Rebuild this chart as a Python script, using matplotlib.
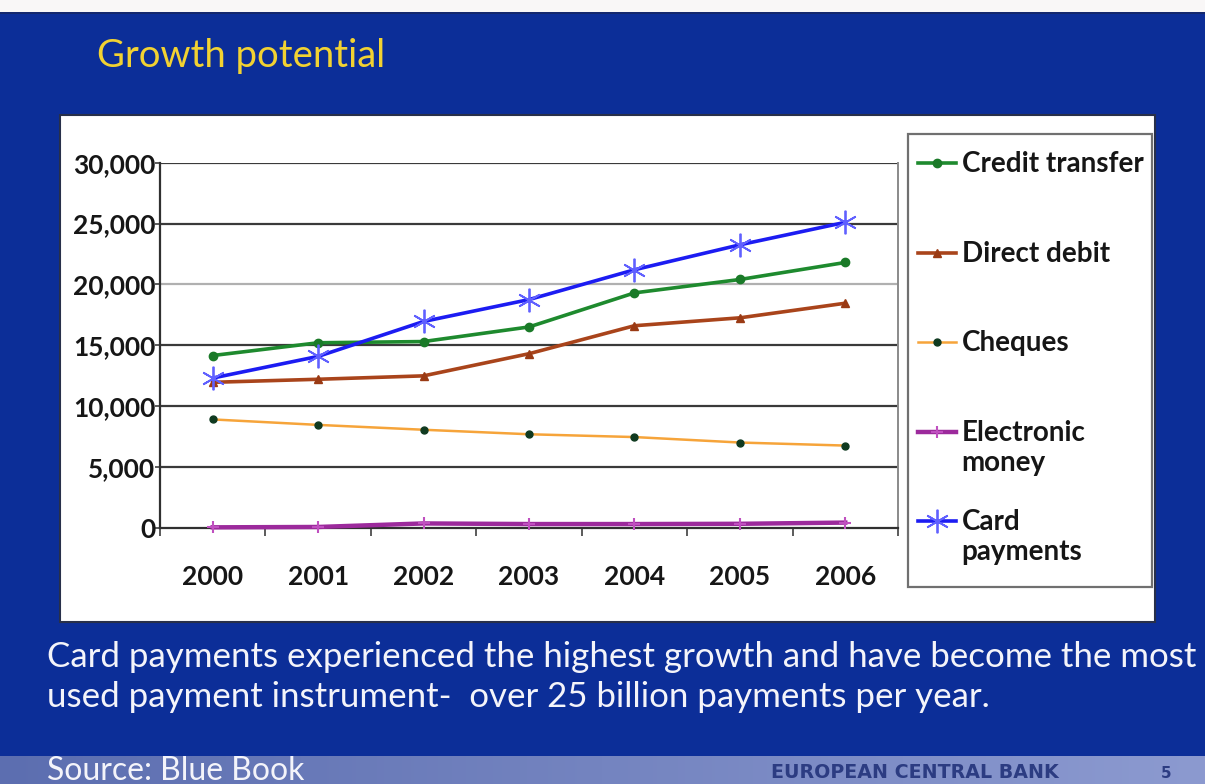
import numpy as np
import matplotlib
matplotlib.use("Agg")
import matplotlib.pyplot as plt
from matplotlib.patches import Rectangle
from matplotlib.legend_handler import HandlerLine2D
from matplotlib.transforms import Bbox, TransformedBbox
from matplotlib.ticker import FixedLocator, FuncFormatter

# ---------------- data ----------------
years = ["2000", "2001", "2002", "2003", "2004", "2005", "2006"]
credit_transfer = [14150, 15200, 15300, 16500, 19300, 20400, 21800]
direct_debit = [11950, 12200, 12480, 14300, 16600, 17250, 18450]
cheques = [8900, 8450, 8050, 7680, 7450, 7000, 6750]
electronic_money = [30, 60, 350, 300, 300, 320, 420]
card_payments = [12300, 14080, 16950, 18750, 21200, 23250, 25100]
series_labels = ["Credit transfer", "Direct debit", "Cheques",
                 "Electronic\nmoney", "Card\npayments"]
y_ticks = [0, 5000, 10000, 15000, 20000, 25000, 30000]
title = "Growth potential"
caption = ["Card payments experienced the highest growth and have become the most",
           "used payment instrument-  over 25 billion payments per year."]
source = "Source: Blue Book"
footer = "EUROPEAN CENTRAL BANK"
page = "5"

W, H = 1205, 784
fig = plt.figure(figsize=(W / 100, H / 100), dpi=100)


def fx(x):
    return x / W


def fy(y):
    return 1 - y / H


# ---------------- background ----------------
bg = fig.add_axes([0, 0, 1, 1], zorder=-10)
bg.set_axis_off()
img = np.zeros((H, W, 3))
img[:, :] = np.array([12, 46, 152]) / 255
img[:12, :] = np.array([250, 247, 247]) / 255
img[12:14, :] = np.array([20, 40, 110]) / 255
band_l = np.array([92, 110, 176]) / 255
band_r = np.array([140, 154, 208]) / 255
t = np.linspace(0, 1, W)[:, None]
img[756:, :] = (band_l * (1 - t) + band_r * t)[None, :, :]
bg.imshow(img, extent=[0, 1, 0, 1], aspect="auto", interpolation="bilinear")
bg.set_xlim(0, 1)
bg.set_ylim(0, 1)

# white chart panel
fig.patches.append(Rectangle((fx(60), fy(622)), fx(1155) - fx(60), fy(115) - fy(622),
                             transform=fig.transFigure, facecolor="white",
                             edgecolor="#28304a", linewidth=1.5, zorder=-5))
# legend frame
fig.patches.append(Rectangle((fx(908), fy(587)), fx(1152) - fx(908), fy(134) - fy(587),
                             transform=fig.transFigure, facecolor="white",
                             edgecolor="#707070", linewidth=1.6, zorder=-4))

# ---------------- chart ----------------
ax = fig.add_axes([fx(160), fy(527.7), fx(898) - fx(160), fy(162.7) - fy(527.7)])
ax.set_facecolor("none")
x = np.arange(len(years))

styles = [
    dict(color="#1e8a2e", lw=2.6, marker="o", ms=6, mfc="#1a7a28", mec="#1a7a28"),
    dict(color="#a9441b", lw=2.6, marker="^", ms=6, mfc="#9a3a14", mec="#9a3a14"),
    dict(color="#f6a43a", lw=1.8, marker="o", ms=5, mfc="#103a20", mec="#103a20"),
    dict(color="#9c2a9c", lw=3.2, marker="+", ms=8, mfc="#c050c0", mec="#c050c0", mew=1.5),
    dict(color="#1c1cf2", lw=2.6, marker=(6, 2, 0), ms=17, mfc="#6060ff", mec="#6060ff", mew=1.3),
]
series = [credit_transfer, direct_debit, cheques, electronic_money, card_payments]
lines = []
for vals, lab, st in zip(series, series_labels, styles):
    ln, = ax.plot(x, vals, label=lab, zorder=3, clip_on=False, **st)
    lines.append(ln)

ax.set_xlim(-0.5, len(years) - 0.5)
ax.set_ylim(0, 30000)
ax.set_yticks(y_ticks)
ax.yaxis.set_major_formatter(FuncFormatter(lambda v, p: f"{int(v):,}"))
ax.set_xticks(x)
ax.set_xticklabels(years)
ax.xaxis.set_minor_locator(FixedLocator(np.arange(-0.5, len(years), 1.0)))

tick_font = dict(family=["Lato", "DejaVu Sans"], weight="bold", size=19)
for lbl in ax.get_xticklabels() + ax.get_yticklabels():
    lbl.set_fontproperties(matplotlib.font_manager.FontProperties(**tick_font))
    lbl.set_color("#161616")
ax.tick_params(axis="x", which="major", length=0, pad=27)
ax.tick_params(axis="x", which="minor", length=6, width=1.2, color="#404040", direction="out")
ax.tick_params(axis="y", which="major", length=3.5, width=1.2, color="#404040", pad=0)

for yv in y_ticks[1:]:
    ax.axhline(yv, color="#b0b0b0" if yv == 20000 else "#3a3a3a", lw=1.6, zorder=1)

for s in ["left", "bottom"]:
    ax.spines[s].set_color("#303030")
    ax.spines[s].set_linewidth(1.6)
ax.spines["top"].set_visible(False)
ax.spines["right"].set_color("#8a8a8a")
ax.spines["right"].set_linewidth(1.4)


# ---------------- legend ----------------
class FirstLineHandler(HandlerLine2D):
    def __init__(self, shift, **kw):
        super().__init__(**kw)
        self.shift = shift

    def create_artists(self, legend, orig_handle, xdescent, ydescent, width, height,
                       fontsize, trans):
        arts = super().create_artists(legend, orig_handle, xdescent, ydescent, width,
                                      height, fontsize, trans)
        for a in arts:
            a.set_ydata(np.asarray(a.get_ydata(), dtype=float) + self.shift)
        return arts


leg_fs = 20
leg_labels = [l if "\n" in l else l + "\n " for l in series_labels]
handler = FirstLineHandler(shift=0.6 * leg_fs, numpoints=1)
leg = fig.legend(lines, leg_labels, loc="upper left",
                 bbox_to_anchor=(fx(918), fy(151)), bbox_transform=fig.transFigure,
                 frameon=False, borderpad=0, borderaxespad=0,
                 handlelength=1.35, handletextpad=0.22, labelspacing=1.2,
                 prop=dict(family=["Lato", "DejaVu Sans"], weight="bold", size=leg_fs),
                 handler_map={l: handler for l in lines})
leg.set_zorder(5)
clipbb = TransformedBbox(Bbox([[fx(60), fy(622)], [fx(1152), fy(115)]]), fig.transFigure)
for tx in leg.get_texts():
    tx.set_color("#161616")
    tx.set_clip_box(clipbb)
    tx.set_clip_on(True)

# ---------------- texts ----------------
ttl = fig.text(fx(97), fy(67), title, color="#f2d232", fontsize=24,
               family=["Lato", "DejaVu Sans"], va="baseline", ha="left")
cap1 = fig.text(fx(47), fy(667), caption[0], color="#f4f4fa", fontsize=25,
                family=["Lato", "DejaVu Sans"], va="baseline", ha="left")
cap2 = fig.text(fx(47), fy(707), caption[1], color="#f4f4fa", fontsize=25,
                family=["Lato", "DejaVu Sans"], va="baseline", ha="left")
src = fig.text(fx(47), fy(780), source, color="#f4f4fa", fontsize=22,
               family=["Lato", "DejaVu Sans"], va="baseline", ha="left")
ecb = fig.text(fx(915), fy(773), footer, color="#2c3c82", fontsize=11,
               family=["DejaVu Sans"], weight="bold", va="center", ha="center")
pg = fig.text(fx(1166), fy(773), page, color="#2c3c82", fontsize=11,
              family=["DejaVu Sans"], weight="bold", va="center", ha="center")

fig.canvas.draw()
r = fig.canvas.get_renderer()


def fit(txt, width):
    bb = txt.get_window_extent(r)
    txt.set_fontsize(txt.get_fontsize() * width / bb.width)


fit(ttl, 288)
fit(cap1, 1150)
cap2.set_fontsize(cap1.get_fontsize())
fit(src, 256)
fit(ecb, 286)

fig.savefig("out.png", dpi=100)
